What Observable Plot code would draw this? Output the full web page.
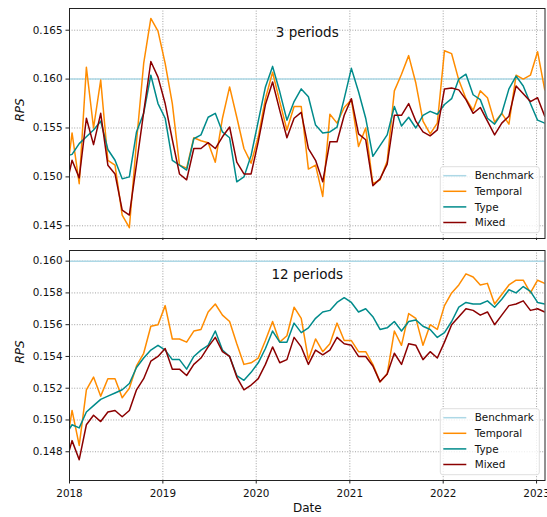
<!DOCTYPE html>
<html>
<head>
<meta charset="utf-8">
<script src="https://cdn.jsdelivr.net/npm/d3@7"></script>
<script src="https://cdn.jsdelivr.net/npm/@observablehq/plot@0.6"></script>
<style>
  html, body { margin: 0; padding: 0; background: #fff; overflow: hidden; }
  body { font-family: "DejaVu Sans", sans-serif; }
  #wrap { position: relative; width: 547px; height: 517px; }
  .panel { position: relative; width: 547px; }
  .panel svg { display: block; }
  .legend { position: absolute; left: 0; top: 0; pointer-events: none; }
</style>
</head>
<body>
<div id="wrap"></div>
<script>
// ---------- data ----------
const years = [2018, 2019, 2020, 2021, 2022, 2023];
const yTicksTop = [0.145, 0.150, 0.155, 0.160, 0.165];
const yTicksBottom = [0.148, 0.150, 0.152, 0.154, 0.156, 0.158, 0.160];
const seriesNames = ["Benchmark", "Temporal", "Type", "Mixed"];
const seriesColors = ["#add8e6", "#ff8c00", "#008b8b", "#8b0000"];
const panelTitles = ["3 periods", "12 periods"];
const yLabel = "RPS";
const xLabel = "Date";
const benchmarkRPS = 0.160;
// 4-week periods; first one (Dec 2017) lies just left of the axis and is clipped
const firstPeriod = Date.UTC(2017, 11, 14);
const periodDays = 28;
const xStart = Date.UTC(2018, 0, 1);
const xEnd = Date.UTC(2023, 1, 3);

// 3 periods panel
const temporal3 = [0.1486,0.1545,0.1493,0.1612,0.1550,0.1599,0.1517,0.1512,0.1461,0.1448,
  0.1536,0.1616,0.1662,0.1649,0.1616,0.1575,0.1512,0.1509,0.1540,0.1537,
  0.1535,0.1515,0.1560,0.1592,0.1561,0.1529,0.1514,0.1541,0.1580,0.1607,
  0.1577,0.1548,0.1572,0.1572,0.1508,0.1512,0.1480,0.1564,0.1555,0.1571,
  0.1579,0.1531,0.1550,0.1493,0.1497,0.1516,0.1588,0.1605,0.1624,0.1596,
  0.1557,0.1544,0.1555,0.1629,0.1626,0.1599,0.1580,0.1568,0.1588,0.1581,
  0.1556,0.1565,0.1554,0.1604,0.1600,0.1604,0.1628,0.1589];
const type3 = [0.1521,0.1523,0.1534,0.1541,0.1548,0.1557,0.1528,0.1517,0.1498,0.1500,
  0.1546,0.1565,0.1604,0.1575,0.1560,0.1517,0.1512,0.1507,0.1539,0.1543,
  0.1561,0.1565,0.1546,0.1540,0.1495,0.1500,0.1522,0.1557,0.1592,0.1613,
  0.1587,0.1558,0.1577,0.1590,0.1582,0.1553,0.1545,0.1546,0.1551,0.1580,
  0.1611,0.1587,0.1560,0.1521,0.1532,0.1543,0.1572,0.1552,0.1561,0.1550,
  0.1563,0.1567,0.1564,0.1574,0.1580,0.1600,0.1605,0.1584,0.1579,0.1560,
  0.1554,0.1565,0.1590,0.1603,0.1593,0.1575,0.1558,0.1555];
const mixed3 = [0.1484,0.1517,0.1499,0.1560,0.1533,0.1565,0.1512,0.1503,0.1466,0.1461,
  0.1513,0.1566,0.1618,0.1602,0.1575,0.1538,0.1503,0.1497,0.1529,0.1529,
  0.1535,0.1529,0.1541,0.1551,0.1515,0.1503,0.1503,0.1536,0.1574,0.1597,
  0.1568,0.1540,0.1560,0.1566,0.1529,0.1517,0.1495,0.1536,0.1536,0.1563,
  0.1580,0.1544,0.1538,0.1491,0.1498,0.1513,0.1563,0.1563,0.1575,0.1557,
  0.1546,0.1542,0.1548,0.1590,0.1591,0.1589,0.1579,0.1565,0.1571,0.1557,
  0.1543,0.1555,0.1562,0.1593,0.1585,0.1577,0.1581,0.1562];

// 12 periods panel
const temporal12 = [0.1478,0.1506,0.1484,0.1519,0.1527,0.1515,0.1526,0.1526,0.1514,0.1520,
  0.1534,0.1542,0.1559,0.1560,0.1572,0.1551,0.1551,0.1549,0.1556,0.1557,
  0.1568,0.1573,0.1566,0.1562,0.1548,0.1535,0.1536,0.1539,0.1550,0.1562,
  0.1549,0.1553,0.1571,0.1564,0.1538,0.1551,0.1543,0.1548,0.1561,0.1550,
  0.1550,0.1543,0.1543,0.1535,0.1524,0.1529,0.1556,0.1547,0.1567,0.1564,
  0.1547,0.1560,0.1557,0.1572,0.1580,0.1585,0.1592,0.1590,0.1585,0.1586,
  0.1573,0.1579,0.1585,0.1588,0.1588,0.1580,0.1588,0.1586];
const type12 = [0.1490,0.1497,0.1495,0.1505,0.1509,0.1513,0.1515,0.1517,0.1519,0.1523,
  0.1533,0.1539,0.1544,0.1547,0.1544,0.1538,0.1538,0.1532,0.1540,0.1544,
  0.1547,0.1556,0.1544,0.1540,0.1528,0.1525,0.1530,0.1536,0.1545,0.1556,
  0.1549,0.1549,0.1561,0.1555,0.1558,0.1564,0.1568,0.1569,0.1574,0.1577,
  0.1574,0.1568,0.1570,0.1565,0.1557,0.1558,0.1562,0.1556,0.1562,0.1563,
  0.1559,0.1557,0.1552,0.1555,0.1562,0.1571,0.1574,0.1573,0.1573,0.1575,
  0.1571,0.1576,0.1582,0.1580,0.1584,0.1581,0.1574,0.1573];
const mixed12 = [0.1471,0.1487,0.1475,0.1497,0.1503,0.1499,0.1505,0.1506,0.1502,0.1506,
  0.1519,0.1526,0.1537,0.1540,0.1545,0.1532,0.1532,0.1528,0.1535,0.1539,
  0.1546,0.1552,0.1543,0.1540,0.1527,0.1519,0.1522,0.1526,0.1535,0.1546,
  0.1536,0.1538,0.1552,0.1546,0.1535,0.1544,0.1541,0.1544,0.1552,0.1548,
  0.1547,0.1540,0.1540,0.1534,0.1524,0.1529,0.1542,0.1535,0.1548,0.1547,
  0.1538,0.1543,0.1539,0.1549,0.1560,0.1565,0.1570,0.1569,0.1566,0.1568,
  0.1560,0.1566,0.1572,0.1573,0.1575,0.1569,0.1570,0.1568];

// ---------- helpers ----------
const periodDate = i => new Date(firstPeriod + i * periodDays * 864e5);
const toRows = vals => vals.map((v, i) => ({date: periodDate(i), value: v}));
const xTickDates = years.map(y => new Date(Date.UTC(y, 0, 1)));
const FONT = "DejaVu Sans";

function panel({series, yDomain, yTicks, title, height, marginTop, marginBottom, showXLabels}) {
  const gridStyle = {stroke: "#8a8a8a", strokeOpacity: 1, strokeWidth: 0.8, strokeDasharray: "1,1.6"};
  const marks = [
    Plot.gridX(xTickDates, gridStyle),
    Plot.gridY(yTicks, gridStyle),
    Plot.ruleY([benchmarkRPS], {stroke: seriesColors[0], strokeWidth: 1.5}),
    ...series.map((vals, j) => Plot.line(toRows(vals), {
      x: "date", y: "value", stroke: seriesColors[j + 1], strokeWidth: 1.5, clip: true
    })),
    Plot.axisY(yTicks, {tickFormat: d3.format(".3f"), tickSize: 3.5, tickPadding: 3.5,
      fontSize: 10.4, label: null, stroke: "#222"}),
    Plot.axisX(xTickDates, {
      tickFormat: showXLabels ? d3.utcFormat("%Y") : () => "",
      tickSize: 3.5, tickPadding: 5.5, fontSize: 10.4, label: null, stroke: "#222"}),
    Plot.frame({stroke: "#222", strokeWidth: 1}),
    Plot.text([title], {frameAnchor: "top", lineAnchor: "middle", dy: 24.5, fontSize: 13.5, fill: "#111"}),
    Plot.text([yLabel], {frameAnchor: "left", lineAnchor: "middle", dx: -49, dy: -2, rotate: -90,
      fontSize: 12, fontStyle: "italic", fill: "#111"})
  ];
  if (showXLabels) {
    marks.push(Plot.text([xLabel], {frameAnchor: "bottom", lineAnchor: "middle", dy: 28, fontSize: 12, fill: "#111"}));
  }
  return Plot.plot({
    width: 547, height,
    marginLeft: 69, marginRight: 2.5, marginTop, marginBottom,
    style: {fontFamily: FONT, fontSize: "10.4px", background: "white", color: "#111"},
    x: {type: "utc", domain: [new Date(xStart), new Date(xEnd)], axis: null},
    y: {domain: yDomain, axis: null},
    marks
  });
}

function addLegend(container, width, height, boxTop) {
  const svg = d3.select(container).append("svg")
    .attr("class", "legend").attr("width", width).attr("height", height);
  const boxLeft = 440.3, boxW = 99, boxH = 66;
  svg.append("rect").attr("x", boxLeft).attr("y", boxTop).attr("width", boxW).attr("height", boxH)
    .attr("rx", 2.5).attr("fill", "white").attr("fill-opacity", 0.8)
    .attr("stroke", "#d6d6d6").attr("stroke-width", 0.8);
  seriesNames.forEach((name, i) => {
    const cy = boxTop + 9 + i * 15.6;
    svg.append("line").attr("x1", boxLeft + 3).attr("x2", boxLeft + 26)
      .attr("y1", cy).attr("y2", cy).attr("stroke", seriesColors[i]).attr("stroke-width", 1.5);
    svg.append("text").attr("x", boxLeft + 34.4).attr("y", cy + 3.7)
      .attr("font-family", FONT).attr("font-size", 10.4).attr("fill", "#111").text(name);
  });
}

const wrap = document.getElementById("wrap");
const configs = [
  {series: [temporal3, type3, mixed3], yDomain: [0.1437, 0.16722], yTicks: yTicksTop,
   title: panelTitles[0], height: 240, marginTop: 8, marginBottom: 2, showXLabels: false},
  {series: [temporal12, type12, mixed12], yDomain: [0.14619, 0.16067], yTicks: yTicksBottom,
   title: panelTitles[1], height: 277, marginTop: 10, marginBottom: 37, showXLabels: true}
];
configs.forEach(cfg => {
  const div = document.createElement("div");
  div.className = "panel";
  div.style.height = cfg.height + "px";
  div.appendChild(panel(cfg));
  wrap.appendChild(div);
  const frameBottom = cfg.height - cfg.marginBottom;
  addLegend(div, 547, cfg.height, frameBottom - 5.3 - 66);
});
</script>
</body>
</html>
